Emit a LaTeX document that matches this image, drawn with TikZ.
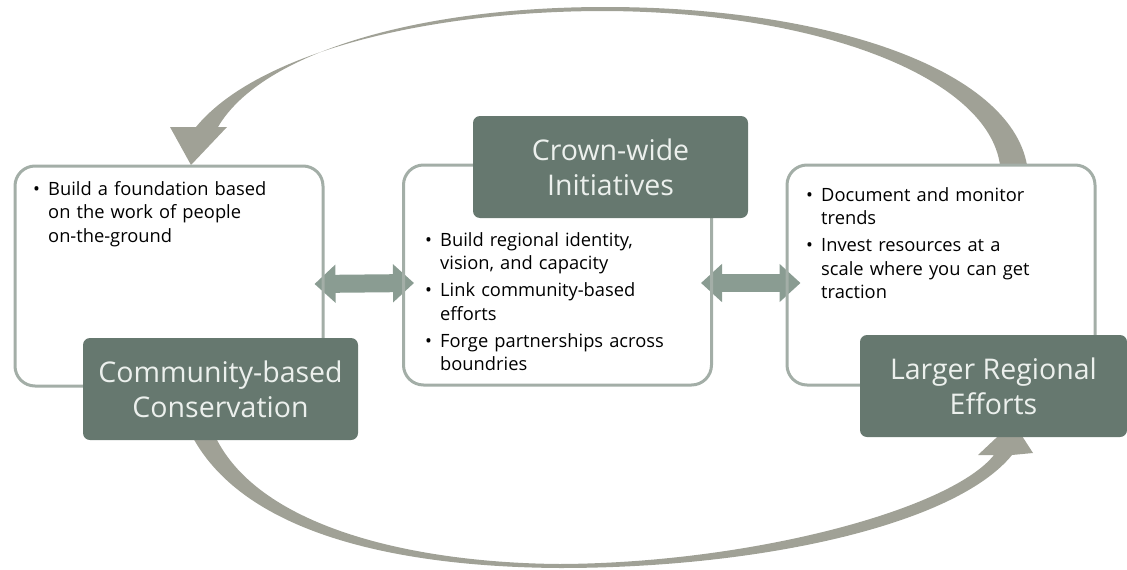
\documentclass[tikz,border=0pt]{standalone}
\usepackage{fontspec}
\setmainfont{Open Sans}
\usetikzlibrary{arrows.meta}
\pgfdeclarelayer{background}
\pgfsetlayers{background,main}

\definecolor{boxline}{RGB}{163,174,167}
\definecolor{titlefill}{RGB}{102,120,111}
\definecolor{titletext}{RGB}{236,240,237}
\definecolor{linkgreen}{RGB}{138,156,146}
\definecolor{loopgray}{RGB}{160,161,150}

% one bullet line with hanging indent
\newcommand{\bitem}[1]{\hangindent=15pt\hangafter=1\noindent\makebox[15pt][l]{\textbullet}#1\par}

\tikzset{
  listbox/.style={draw=boxline, line width=3pt, rounded corners=20pt,
    minimum width=308pt, minimum height=220pt},
  titlebox/.style={fill=titlefill, text=titletext, rounded corners=7pt,
    minimum width=275pt, minimum height=102pt, align=center,
    font=\fontsize{28.5}{35}\selectfont},
  bullets/.style={anchor=north west, inner sep=0pt, text width=#1,
    align=left, font=\fontsize{18.3}{23.5}\selectfont\setlength{\parskip}{3.5pt}},
  link/.style={line width=18pt, draw=linkgreen,
    {Triangle[width=37pt,length=21pt]}-{Triangle[width=37pt,length=21pt]}},
  loop/.style={fill=loopgray, draw=none},
}

\begin{document}
\begin{tikzpicture}[x=1pt,y=-1pt]
    \useasboundingbox (0,0) rectangle (1127,570);

    % the three boxes
    \node[listbox] (lbox) at (169,276) {};
    \node[listbox] (cbox) at (557.5,275) {};
    \node[listbox] (rbox) at (941,275) {};

    % links between them
    \begin{pgfonlayer}{background}
    \draw[link] ([xshift=-10pt,yshift=-8pt]lbox.east) -- ([xshift=12pt,yshift=-8pt]cbox.west);
    \draw[link] ([xshift=-12pt,yshift=-8pt]cbox.east) -- ([xshift=15pt,yshift=-8pt]rbox.west);

    % top loop, right to left
    \fill[loop] (1027,165) .. controls (1010,70) and (830,7) .. (605,7)
        .. controls (420,7) and (262,52) .. (218,127)
        -- (227,127) -- (191,165) -- (170,127) -- (196,127)
        .. controls (255,55) and (420,11) .. (605,11)
        .. controls (820,12) and (988,78) .. (1000,165) -- cycle;

    % bottom loop, left to right
    \fill[loop] (192,436) .. controls (245,535) and (400,567) .. (560,568)
        .. controls (760,568) and (955,525) .. (1012,455)
        -- (1033,453) -- (1013,422) -- (978,455) -- (994,455)
        .. controls (950,510) and (750,563) .. (560,564)
        .. controls (420,563) and (260,530) .. (215,436) -- cycle;
    \end{pgfonlayer}

    % titles
    \node[titlebox] (ltitle) at (220.5,389) {Community-based\\Conservation};
    \node[titlebox] (ctitle) at (610.5,167) {Crown-wide\\Initiatives};
    \node[titlebox, minimum width=267pt] (rtitle) at (993.5,386) {Larger Regional\\Efforts};

    % bullet lists
    \node[bullets=285pt] (ltext) at (33,181) {%
        \bitem{Build a foundation based\newline on the work of people\newline on-the-ground}};
    \node[bullets=295pt] (ctext) at (425,232) {%
        \bitem{Build regional identity,\newline vision, and capacity}
        \bitem{Link community-based\newline efforts}
        \bitem{Forge partnerships across\newline boundries}};
    \node[bullets=295pt] (rtext) at (806,187) {%
        \bitem{Document and monitor\newline trends}
        \bitem{Invest resources at a\newline scale where you can get\newline traction}};
\end{tikzpicture}
\end{document}
